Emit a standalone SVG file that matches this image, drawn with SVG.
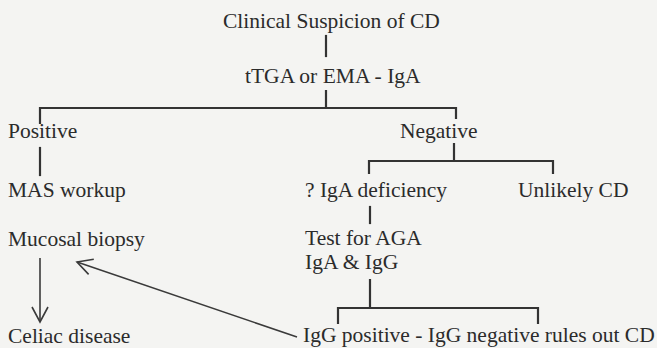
<svg xmlns="http://www.w3.org/2000/svg" width="657" height="348" viewBox="0 0 657 348">
<style>
.t{font-family:"Liberation Serif","Times New Roman","DejaVu Serif",serif;font-size:21.5px;fill:#2b2b2b}
.c{fill:none;stroke:#333;stroke-width:2.2;stroke-linecap:square}
.a{fill:none;stroke:#3a3a3a;stroke-width:1.6}
</style>
<defs>
<marker id="open" viewBox="0 0 20 20" refX="18" refY="10" markerWidth="20" markerHeight="20" markerUnits="userSpaceOnUse" orient="auto">
<path d="M3,2 L18,10 L3,18" fill="none" stroke="#3a3a3a" stroke-width="1.6"/>
</marker>
</defs>
<rect width="657" height="348" fill="#f4f4f2"/>
<g id="connectors">
<path class="c" d="M326,36 V56"/>
<path class="c" d="M326,91 V108 M40,108 H456 M40,108 V123 M456,108 V118"/>
<path class="c" d="M40,148 V175"/>
<path class="c" d="M454,144 V161 M369,161 H553 M369,161 V173 M553,161 V173"/>
<path class="c" d="M370,207 V223"/>
<path class="c" d="M370,280 V308 M338,308 H538 M338,308 V323 M538,308 V323"/>
<path class="a" d="M40,258 V322" marker-end="url(#open)"/>
<path class="a" d="M297,337 L77,262" marker-end="url(#open)"/>
</g>
<g id="n-clinical"><text class="t" font-family="Liberation Serif, serif" x="223" y="28">Clinical Suspicion of CD</text></g>
<g id="n-ttga"><text class="t" font-family="Liberation Serif, serif" x="245" y="83">tTGA or EMA - IgA</text></g>
<g id="n-positive"><text class="t" font-family="Liberation Serif, serif" x="8" y="138">Positive</text></g>
<g id="n-negative"><text class="t" font-family="Liberation Serif, serif" x="400" y="138">Negative</text></g>
<g id="n-mas"><text class="t" font-family="Liberation Serif, serif" x="8" y="197">MAS workup</text></g>
<g id="n-iga-def"><text class="t" font-family="Liberation Serif, serif" x="305" y="197">? IgA deficiency</text></g>
<g id="n-unlikely"><text class="t" font-family="Liberation Serif, serif" x="518" y="197">Unlikely CD</text></g>
<g id="n-mucosal"><text class="t" font-family="Liberation Serif, serif" x="8" y="246">Mucosal biopsy</text></g>
<g id="n-aga"><text class="t" font-family="Liberation Serif, serif" x="305" y="245">Test for AGA</text><text class="t" font-family="Liberation Serif, serif" x="305" y="269">IgA &amp; IgG</text></g>
<g id="n-celiac"><text class="t" font-family="Liberation Serif, serif" x="8" y="343">Celiac disease</text></g>
<g id="n-igg"><text class="t" font-family="Liberation Serif, serif" x="303" y="342">IgG positive - IgG negative rules out CD</text></g>
</svg>
